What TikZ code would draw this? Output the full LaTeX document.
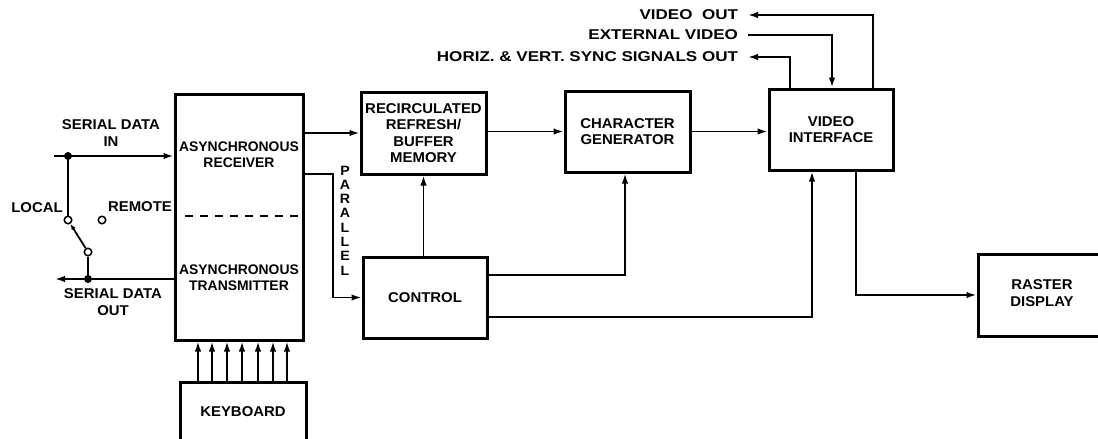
\documentclass[tikz,border=0pt]{standalone}
\usepackage{fontspec}
\setmainfont{Liberation Sans}[FakeStretch=1.05,UprightFont=*-Bold]
\newfontfamily\nf{Liberation Sans Bold}
\newfontfamily\wf{Liberation Sans Bold}[FakeStretch=1.2]
\usetikzlibrary{arrows.meta,calc}
\begin{document}
\begin{tikzpicture}[x=1pt,y=-1pt,
  font=\fontsize{14.2}{16.4}\selectfont,
  blk/.style={draw,line width=3pt,inner sep=0pt,align=center},
  txt/.style={inner sep=0pt,align=center},
  lbl/.style={inner sep=0pt,outer xsep=10pt,anchor=east,font=\wf\fontsize{14.2}{16}\selectfont},
  ln/.style={line width=1.8pt},
  arr/.style={ln,-{Latex[length=10pt,width=6.5pt]}},
  dot/.style={circle,fill,inner sep=0pt,minimum size=8pt},
  contact/.style={circle,draw,fill=white,line width=1.5pt,inner sep=0pt,minimum size=7.5pt}]
\useasboundingbox (0,0) rectangle (1098,439);
\clip (0,0) rectangle (1098,439);
% blocks
\node[blk,minimum width=128pt,minimum height=246pt] (async) at (239,217) {};
\node[txt,font=\nf\fontsize{13.9}{16}\selectfont] (rcv) at (239,155) {ASYNCHRONOUS\\RECEIVER};
\node[txt,font=\nf\fontsize{13.9}{16}\selectfont] (xmt) at (239,278) {ASYNCHRONOUS\\TRANSMITTER};
\draw[line width=1.6pt,dash pattern=on 8pt off 7pt] (185,216) -- (298,216);
\node[blk,minimum width=125pt,minimum height=82pt] (mem) at (423.5,133) {RECIRCULATED\\REFRESH/\\BUFFER\\MEMORY};
\node[blk,minimum width=124pt,minimum height=81pt] (ctrl) at (425,297.5) {CONTROL};
\node[blk,minimum width=125pt,minimum height=81pt] (cg) at (627.5,131.5) {CHARACTER\\GENERATOR};
\node[blk,minimum width=124pt,minimum height=81pt] (vi) at (831,129.5) {VIDEO\\INTERFACE};
\node[blk,minimum width=142pt,minimum height=82pt] (rd) at (1049,295) {};
\node[txt] (rdt) at (1042,293) {RASTER\\DISPLAY};
\node[blk,minimum width=126pt,minimum height=100pt] (kb) at (243,432) {};
\node[txt] (kbt) at (243,412) {KEYBOARD};
% keyboard arrows
\foreach \x in {198,212,227,242,258,273,287}
  \draw[arr] (\x,0 |- kb.north) -- (\x,0 |- async.south);
% serial in / out and switch
\coordinate (sinL) at (54,156);
\coordinate (j1) at (68,156);
\coordinate (soutL) at (55,279);
\coordinate (j2) at (88,279);
\draw[arr] (sinL) -- (sinL -| async.west);
\draw[arr] (async.west |- soutL) -- (soutL);
\node[contact] (lc) at (68,220) {};
\node[contact] (rc) at (102,220) {};
\node[contact] (pv) at (88,252) {};
\draw[ln] (j1) -- (lc);
\draw[ln] (pv) -- (j2);
\draw[ln,-{Latex[length=6pt,width=4.5pt]}] (pv) -- (lc);
\node[dot] (d1) at (j1) {};
\node[dot] (d2) at (j2) {};
\node[txt] (sdin) at (111,133) {SERIAL DATA\\IN};
\node[txt] (sdout) at (113,302) {SERIAL DATA\\OUT};
\node[txt] (loc) at (37,208) {LOCAL};
\node[txt] (rem) at (140,207) {REMOTE};
% async -> memory, parallel -> control
\draw[arr] (async.east |- mem.west) -- (mem.west);
\coordinate (p1) at (333,174);
\draw[arr] (p1 -| async.east) -- (p1) |- (ctrl.west);
\node[txt,font=\fontsize{13.5}{14.3}\selectfont] (par) at (345,220.5) {P\\A\\R\\A\\L\\L\\E\\L};
% control -> memory
\draw[arr] (ctrl.north -| mem.south) -- (mem.south);
% memory -> char gen -> video
\draw[arr] (mem.east |- cg.west) -- (cg.west);
\draw[arr] (cg.east) -- (vi.west |- cg.east);
% control -> char gen, control -> video
\coordinate (c1) at (625,275);
\draw[arr] (ctrl.east |- c1) -- (c1) -- (c1 |- cg.south);
\coordinate (c2) at (812,317);
\draw[arr] (ctrl.east |- c2) -- (c2) -- (c2 |- vi.south);
% video -> raster
\coordinate (c3) at (856,295);
\draw[arr] (vi.south -| c3) -- (c3) -- (rd.west);
% top signals
\node[lbl] (vout) at (748,15) {VIDEO\ \ OUT};
\node[lbl] (ext) at (748,35) {EXTERNAL VIDEO};
\node[lbl] (hs) at (748,57) {HORIZ. \& VERT. SYNC SIGNALS OUT};
\coordinate (c4) at (873,0 |- vout.east);
\draw[arr] (vi.north -| c4) -- (c4) -- (vout.east);
\coordinate (c5) at (832,0 |- ext.east);
\draw[arr] (ext.east) -- (c5) -- (c5 |- vi.north);
\coordinate (c6) at (790,0 |- hs.east);
\draw[arr] (vi.north -| c6) -- (c6) -- (hs.east);
\end{tikzpicture}
\end{document}
